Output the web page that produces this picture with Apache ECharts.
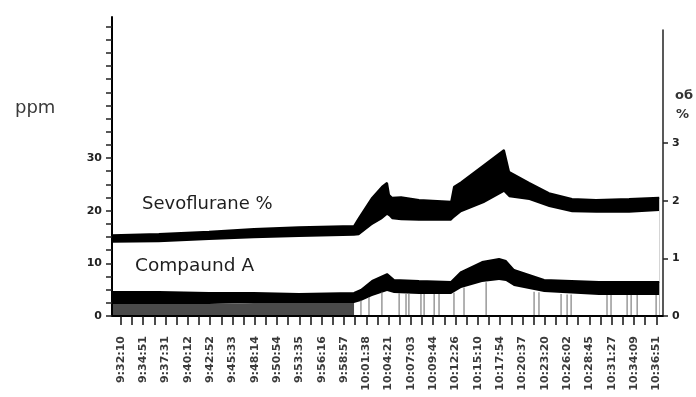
<!DOCTYPE html>
<html>
<head>
<meta charset="utf-8">
<script src="https://cdn.jsdelivr.net/npm/echarts@6/dist/echarts.min.js"></script>
<style>
html,body{margin:0;padding:0;background:#fff;}
#chart{width:696px;height:397px;}
</style>
</head>
<body>
<div id="chart"></div>
<script>
// x positions are in "label index" units: 0 = 9:32:10 ... 24 = 10:36:51
const timeLabels = ['9:32:10','9:34:51','9:37:31','9:40:12','9:42:52','9:45:33','9:48:14','9:50:54','9:53:35','9:56:16','9:58:57','10:01:38','10:04:21','10:07:03','10:09:44','10:12:26','10:15:10','10:17:54','10:20:37','10:23:20','10:26:02','10:28:45','10:31:27','10:34:09','10:36:51'];

// Sevoflurane % band (right axis) – lower / upper envelope
const sevoX    = [-0.40, 1.70, 3.95, 5.96, 7.98, 10.45, 10.67, 11.26, 11.70, 11.93, 12.02, 12.15, 12.56, 13.36, 14.80, 14.93, 15.25, 16.28, 17.17, 17.40, 18.30, 19.19, 20.22, 21.30, 22.78, 24.13];
const sevoLow  = [1.27, 1.28, 1.32, 1.35, 1.37, 1.39, 1.40, 1.58, 1.68, 1.75, 1.73, 1.68, 1.66, 1.65, 1.65, 1.70, 1.80, 1.96, 2.15, 2.06, 2.01, 1.89, 1.80, 1.79, 1.79, 1.82];
const sevoHigh = [1.40, 1.42, 1.46, 1.51, 1.54, 1.56, 1.70, 2.05, 2.24, 2.31, 2.10, 2.05, 2.06, 2.01, 1.98, 2.24, 2.32, 2.62, 2.88, 2.50, 2.31, 2.13, 2.03, 2.01, 2.03, 2.05];

// Compound A ppm band (left axis) – lower / upper envelope
const compX    = [-0.40, 1.70, 3.95, 5.96, 7.98, 10.45, 10.76, 11.26, 11.93, 12.24, 13.36, 14.80, 15.25, 16.19, 16.95, 17.26, 17.62, 18.97, 21.43, 24.13];
const compLow  = [2.28, 2.28, 2.28, 2.47, 2.47, 2.47, 2.85, 3.80, 4.75, 4.37, 4.18, 4.18, 5.32, 6.46, 6.84, 6.65, 5.70, 4.56, 3.99, 3.99];
const compHigh = [4.56, 4.56, 4.37, 4.37, 4.18, 4.37, 4.94, 6.65, 7.97, 6.84, 6.65, 6.46, 8.35, 10.25, 10.82, 10.44, 8.73, 6.84, 6.46, 6.46];

// signal drop-outs of Compound A (thin spikes down to zero)
const spikeX = [10.76, 11.12, 11.70, 12.47, 12.78, 12.91, 13.45, 13.59, 14.04, 14.26, 14.93, 15.38, 16.37, 18.52, 18.74, 19.73, 20.00, 20.18, 21.79, 21.97, 22.69, 22.87, 23.14, 23.99];
const spikeH = [3.0, 3.6, 4.6, 4.3, 4.2, 4.2, 4.2, 4.2, 4.2, 4.2, 4.4, 5.4, 6.4, 4.6, 4.5, 4.2, 4.1, 4.1, 4.0, 4.0, 4.0, 4.0, 4.0, 4.0];
const dropZoneCount = 6; // first points of Compound A with dense drop-outs

const leftLabelValues = [0, 10, 20, 30];
const rightLabelValues = [0, 1, 2, 3];

const leftTickValues = [];
for (let v = 0; v <= 55; v += 2.5) leftTickValues.push(v);
const xTickValues = [];
for (let v = 0; v <= 24; v += 0.5) xTickValues.push(v);
const xLabelValues = timeLabels.map((_, i) => i);

const zip = (xs, ys) => xs.map((x, i) => [x, ys[i]]);

const chart = echarts.init(document.getElementById('chart'), null, {renderer: 'canvas'});
const FONT = '"DejaVu Sans", Arial, sans-serif';

function area(name, x, y, xi, yi, z, color, edge) {
  return {
    name, type: 'line', xAxisIndex: xi, yAxisIndex: yi, z,
    data: zip(x, y), symbol: 'none', silent: true,
    lineStyle: edge ? {color: color, width: 2} : {width: 0, opacity: 0},
    areaStyle: {color: color, opacity: 1}
  };
}

chart.setOption({
  animation: false,
  backgroundColor: '#ffffff',
  grid: [
    {left: 112, right: 33, top: 17, bottom: 81},
    {left: 112, right: 33, top: 30, bottom: 81}
  ],
  xAxis: [
    {
      type: 'value', gridIndex: 0, min: -0.4, max: 24.3, z: 20,
      splitLine: {show: false},
      axisLine: {show: true, onZero: false, lineStyle: {color: '#000', width: 2}},
      axisTick: {show: true, customValues: xTickValues, length: 9, lineStyle: {color: '#111', width: 1.5}},
      axisLabel: {
        customValues: xLabelValues, rotate: 90, margin: 20,
        fontFamily: FONT, fontSize: 11, fontWeight: 'bold', color: '#3a3a3a',
        formatter: v => timeLabels[Math.round(v)] || ''
      }
    },
    {type: 'value', gridIndex: 1, min: -0.4, max: 24.3, show: false}
  ],
  yAxis: [
    {
      type: 'value', gridIndex: 0, min: 0, max: 56.8, position: 'left', z: 20,
      splitLine: {show: false},
      axisLine: {show: true, onZero: false, lineStyle: {color: '#000', width: 2}},
      axisTick: {show: true, customValues: leftTickValues, length: 6, lineStyle: {color: '#222', width: 1.5}},
      axisLabel: {customValues: leftLabelValues, margin: 10, fontFamily: FONT, fontSize: 11, fontWeight: 'bold', color: '#222'}
    },
    {
      type: 'value', gridIndex: 1, min: 0, max: 4.96, position: 'right', z: 20,
      splitLine: {show: false},
      axisLine: {show: true, onZero: false, lineStyle: {color: '#222', width: 1.5}},
      axisTick: {show: true, customValues: rightLabelValues, length: 5, lineStyle: {color: '#222', width: 1.5}},
      axisLabel: {customValues: rightLabelValues, margin: 9, fontFamily: FONT, fontSize: 11, fontWeight: 'bold', color: '#222'}
    }
  ],
  series: [
    // Sevoflurane band: black up to upper envelope, white below lower envelope
    area('Sevoflurane', sevoX, sevoHigh, 1, 1, 2, '#000', true),
    area('sevoLowMask', sevoX, sevoLow, 1, 1, 3, '#fff', false),
    // Compound A band
    area('Compound A', compX, compHigh, 0, 0, 4, '#000', true),
    area('compLowMask', compX, compLow, 0, 0, 5, '#fff', false),
    // dense drop-outs in the first part
    area('dropZone', compX.slice(0, dropZoneCount), compLow.slice(0, dropZoneCount), 0, 0, 6, '#4a4a4a', false),
    {
      name: 'spikes', type: 'bar', xAxisIndex: 0, yAxisIndex: 0, z: 6, silent: true,
      data: zip(spikeX, spikeH), barWidth: 1,
      itemStyle: {color: '#666'}
    }
  ],
  graphic: [
    {type: 'text', z: 100, left: 15, top: 99, style: {text: 'ppm', font: '18px ' + FONT, fill: '#3a3a3a'}},
    {type: 'text', z: 100, left: 142, top: 195, style: {text: 'Sevoflurane %', font: '18px ' + FONT, fill: '#1e1e1e'}},
    {type: 'text', z: 100, left: 135, top: 257, style: {text: 'Compaund A', font: '18.5px ' + FONT, fill: '#1e1e1e'}},
    {type: 'text', z: 100, left: 675, top: 89, style: {text: 'об', font: 'bold 13px ' + FONT, fill: '#333'}},
    {type: 'text', z: 100, left: 676, top: 108, style: {text: '%', font: 'bold 13px ' + FONT, fill: '#333'}}
  ]
});
</script>
</body>
</html>
